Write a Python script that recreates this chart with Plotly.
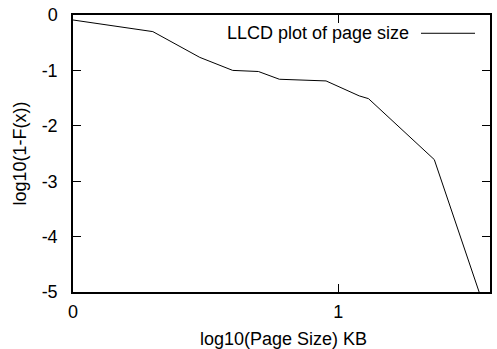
import plotly.graph_objects as go

# log10 of page size (KB) and log10 of the complementary CDF
log_size = [0.0, 0.301, 0.478, 0.602, 0.699, 0.778, 0.954, 1.079, 1.114, 1.362, 1.531]
log_ccdf = [-0.09, -0.30, -0.765, -1.0, -1.02, -1.16, -1.19, -1.46, -1.51, -2.61, -5.0]

x_ticks = [0, 1]
y_ticks = [0, -1, -2, -3, -4, -5]
series_name = "LLCD plot of page size"
x_title = "log10(Page Size) KB"
y_title = "log10(1-F(x))"

FONT = "Liberation Sans, Arial, sans-serif"
FS = 18
W, H = 497, 349
ML, MR, MT, MB = 73, 7, 15, 57
PW, PH = W - ML - MR, H - MT - MB


def px_x(px):
    return (px - ML) / PW


def px_y(py):
    return (H - MB - py) / PH


fig = go.Figure()
fig.add_trace(go.Scatter(
    x=log_size, y=log_ccdf, mode="lines", name=series_name,
    line=dict(color="black", width=1), showlegend=False,
))

axis_common = dict(
    showgrid=False, zeroline=False, showline=True, linecolor="black", linewidth=1.5,
    mirror="ticks", ticks="inside", ticklen=8, tickwidth=1, tickcolor="black",
    tickfont=dict(family=FONT, size=FS, color="black"), automargin=False,
)

fig.update_xaxes(
    range=[0, 1.572], tickvals=x_ticks, ticktext=[str(v) for v in x_ticks],
    ticklabelstandoff=3, **axis_common,
)
fig.update_yaxes(
    range=[-5, 0.0], tickvals=y_ticks, ticktext=[str(v) for v in y_ticks],
    ticklabelstandoff=10, **axis_common,
)

txt_font = dict(family=FONT, size=FS, color="black")
# axis titles
fig.add_annotation(x=px_x(283), y=px_y(339), xref="paper", yref="paper", text=x_title,
                   showarrow=False, xanchor="center", yanchor="middle", font=txt_font)
fig.add_annotation(x=px_x(19.5), y=px_y(154), xref="paper", yref="paper", text=y_title,
                   showarrow=False, xanchor="center", yanchor="middle", textangle=-90, font=txt_font)

# gnuplot-style key: text on the left, line sample on the right
fig.add_annotation(
    x=px_x(411), y=-0.33, xref="paper", yref="y", text=series_name,
    showarrow=False, xanchor="right", yanchor="middle", font=txt_font,
)
fig.add_shape(
    type="line", xref="paper", yref="y",
    x0=px_x(421), x1=px_x(475), y0=-0.33, y1=-0.33,
    line=dict(color="black", width=1),
)

fig.update_layout(
    width=W, height=H,
    margin=dict(l=ML, r=MR, t=MT, b=MB, autoexpand=False),
    paper_bgcolor="white", plot_bgcolor="white",
    font=txt_font,
)

fig.write_html("out.html")
